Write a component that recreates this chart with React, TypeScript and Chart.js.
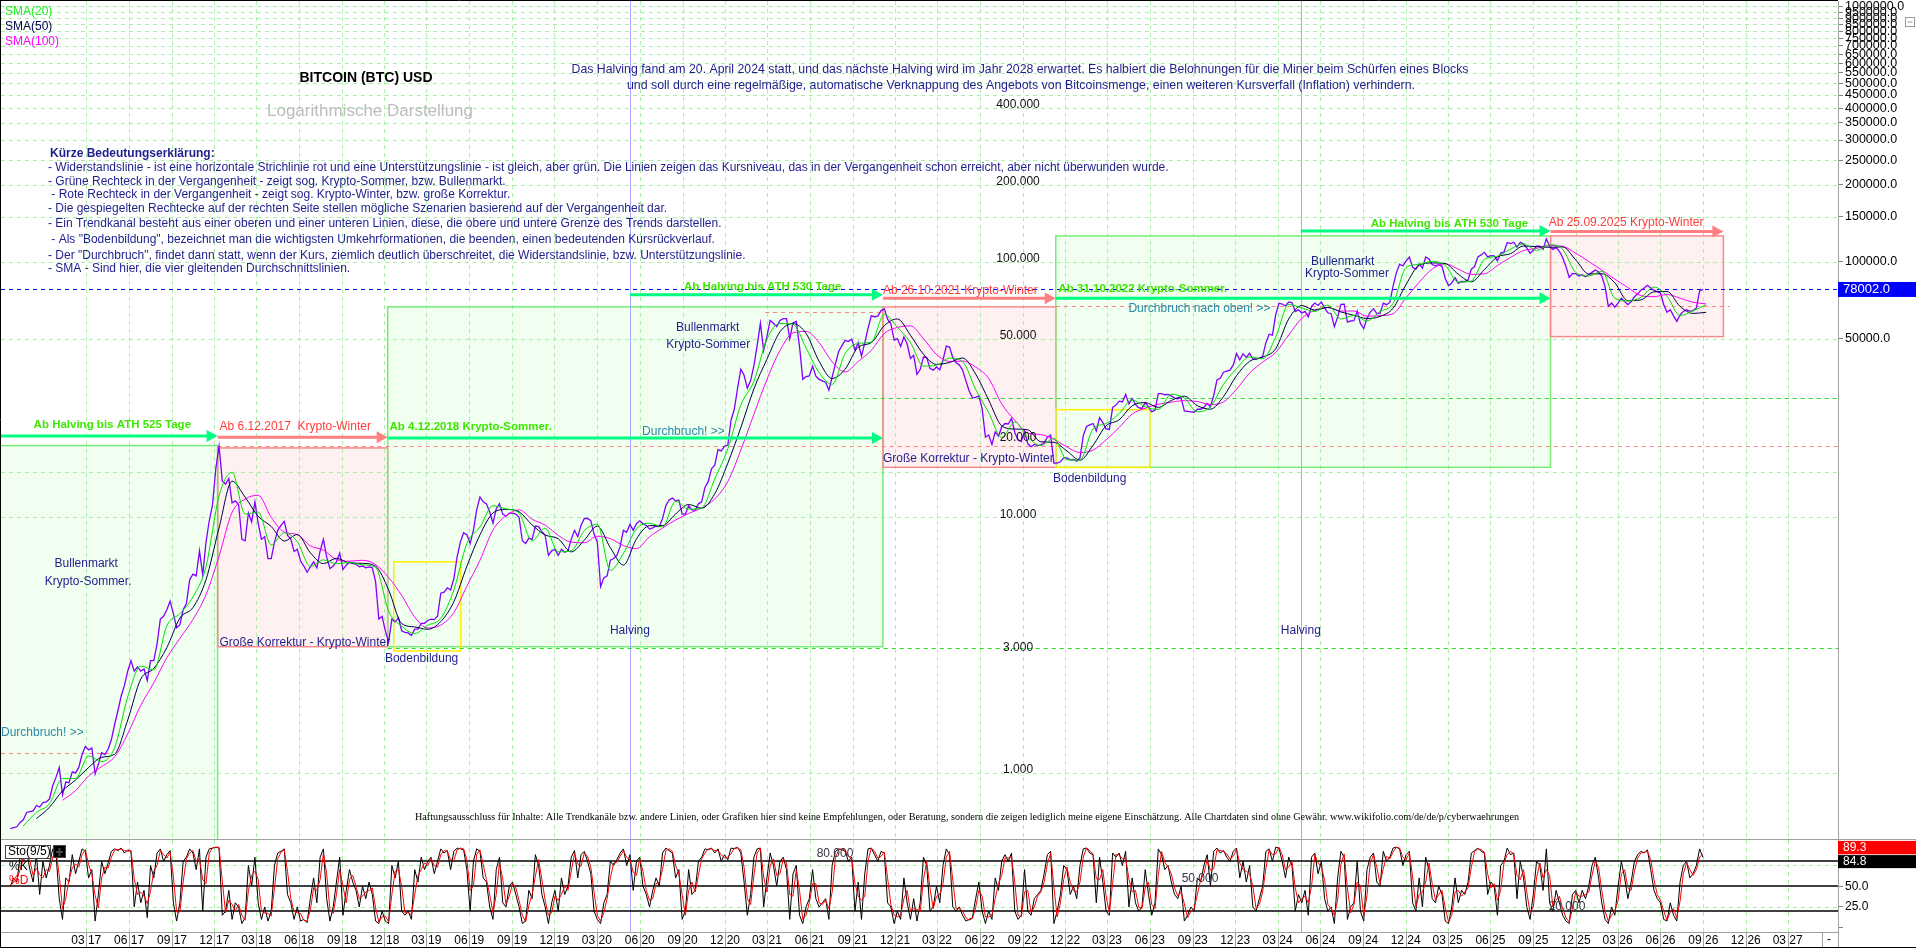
import React, { useEffect, useRef } from "react";
import { Chart, registerables } from "chart.js";

Chart.register(...registerables);

const SANS = '"Liberation Sans", Arial, Helvetica, sans-serif';
const SERIF = '"Liberation Serif", "Times New Roman", serif';

const dayOf = (s: string): number =>
  Date.UTC(+s.slice(0, 4), +s.slice(5, 7) - 1, +s.slice(8, 10)) / 86400000;

// ---------- visible window ----------
const X_START = "2016-08-30";
const X_END = "2027-06-17";
const Y_MIN = 551;
const Y_MAX = 1050000;
const STO_MIN = -5.2;
const STO_MAX = 105.7;

// ---------- weekly closes (Mondays), one array per year ----------
const price2016 = [605, 610, 615, 640, 655, 700, 705, 710, 745, 735, 765, 770, 790, 890, 960];
const price2017 = [1050, 820, 920, 915, 1010, 1000, 1050, 1180, 1270, 1230, 1250, 990, 1080, 1200, 1180, 1240, 1350, 1550, 1750, 2000, 2200, 2500, 2750, 2500, 2600, 2500, 2550, 2300, 2750, 2750, 3200, 4000, 4100, 4350, 4700, 4200, 3700, 3800, 4350, 4600, 5700, 6000, 5900, 7400, 5950, 8000, 9700, 11200, 15500, 19000, 13900, 13500];
const price2018 = [14200, 11400, 11600, 11200, 8200, 8100, 10400, 9600, 11500, 9500, 8200, 8400, 6900, 6900, 8000, 8900, 9300, 9650, 8500, 8250, 7350, 7500, 6750, 6450, 6100, 6400, 6700, 6350, 7400, 8200, 7000, 6300, 6450, 6700, 7250, 6250, 6500, 6700, 6600, 6550, 6400, 6450, 6350, 6400, 6350, 5600, 4000, 4100, 3600, 3250, 4000, 3900, 4050];
const price2019 = [3600, 3550, 3530, 3450, 3650, 3650, 3850, 3850, 3950, 4000, 3980, 4100, 5050, 5100, 5300, 5200, 5750, 7000, 8000, 8700, 8550, 7900, 8900, 10700, 12000, 11500, 11300, 10500, 9500, 10800, 11300, 10300, 10100, 10400, 10400, 10300, 10000, 8100, 7900, 8300, 8200, 9250, 9200, 8800, 8500, 7100, 7400, 7500, 7100, 7500, 7300, 7400];
const price2020 = [8200, 8900, 8400, 9300, 9900, 9900, 9700, 8600, 8000, 5350, 5800, 5900, 6800, 6900, 7100, 7700, 8900, 8750, 9400, 8900, 9450, 9700, 9450, 9300, 9000, 9100, 9250, 9200, 9900, 11100, 11700, 11900, 11600, 11700, 10300, 10300, 11100, 10700, 10650, 11300, 11500, 13100, 13800, 15500, 16000, 18400, 18200, 19000, 19150, 24000, 26500, 32000];
const price2021 = [38000, 36000, 32000, 34300, 39200, 47000, 57500, 45000, 51000, 59000, 57500, 55800, 59000, 60000, 60000, 50000, 57800, 58500, 46500, 34700, 35600, 35800, 39100, 35700, 34700, 34200, 33800, 31500, 35400, 39900, 44600, 47000, 49300, 48800, 49900, 45200, 48300, 42700, 48200, 54900, 61500, 61000, 61300, 64500, 65500, 59700, 57300, 49400, 50100, 46700, 50800, 47700];
const price2022 = [41900, 43100, 36300, 37900, 42400, 42200, 38300, 37700, 38800, 37800, 41300, 46800, 46400, 42200, 40400, 39500, 37700, 34300, 31300, 29400, 29500, 29900, 26600, 20600, 21000, 19300, 21600, 20800, 22600, 23300, 23200, 24400, 21500, 20100, 19800, 21800, 19400, 18900, 19300, 19100, 19200, 19600, 20600, 21000, 16300, 16300, 16500, 17100, 17100, 16800, 16850, 16600];
const price2023 = [17100, 20900, 22700, 23000, 23300, 21800, 24600, 23500, 22200, 22100, 26900, 27500, 28500, 28300, 30300, 27800, 29200, 27700, 26900, 26700, 28100, 27100, 25900, 26300, 30500, 30500, 30200, 30300, 29900, 29300, 29100, 29400, 26100, 26000, 25900, 25800, 26500, 26500, 27000, 27900, 27100, 30000, 34500, 35000, 37000, 37400, 37700, 39500, 43800, 41400, 43700, 42300];
const price2024 = [43900, 41700, 41600, 42000, 42600, 48300, 52100, 51700, 62000, 68900, 68400, 67200, 69700, 69300, 63900, 64900, 63100, 64000, 60900, 67000, 69000, 67500, 69600, 66200, 63200, 62700, 55800, 60800, 68200, 68300, 58100, 58700, 58900, 64200, 57300, 54800, 60000, 63600, 65600, 62800, 62900, 69000, 68000, 69400, 80400, 90600, 97900, 96400, 101000, 104500, 95200, 93700, 98300];
const price2025 = [94500, 104500, 102600, 97700, 96500, 97500, 96100, 86100, 80700, 82600, 86800, 82400, 83800, 83700, 85100, 93700, 95900, 104600, 106500, 109000, 104600, 105700, 105600, 100900, 108300, 109200, 119100, 117900, 119400, 114200, 119300, 117400, 113500, 108200, 111100, 115300, 115300, 112000, 123000, 115000, 112000, 114000, 110000, 104000, 96000, 87000, 90000, 90000, 88000, 89000, 87500, 89000];
const price2026 = [91000, 93000, 91500, 88000, 80000, 67000, 69000, 66500, 69000, 72000, 70000, 68000, 70000, 73000, 75000, 77500, 79000, 81000, 79000, 77500, 76500, 75500, 68000, 63500, 65000, 61500, 58500, 62000, 64000, 65000, 64000, 64500, 66000, 77000, 78002];

// ---------- Stochastic (9/5) weekly readings ----------
const stoK2016 = [50, 60, 55, 85, 80, 92, 70, 55, 88, 40, 80, 60, 75, 95, 90];
const stoK2017 = [35, 10, 60, 55, 88, 65, 80, 95, 92, 60, 70, 8, 40, 80, 65, 78, 92, 95, 93, 96, 90, 94, 92, 25, 55, 30, 45, 12, 75, 60, 90, 95, 80, 88, 93, 30, 8, 30, 80, 85, 95, 90, 70, 95, 20, 85, 95, 96, 97, 96, 15, 20];
const stoK2018 = [45, 10, 30, 25, 5, 12, 75, 50, 85, 30, 10, 25, 8, 20, 75, 90, 92, 95, 40, 30, 10, 25, 8, 10, 6, 35, 60, 30, 85, 95, 35, 8, 25, 55, 85, 15, 45, 70, 55, 45, 25, 50, 35, 55, 40, 8, 5, 20, 8, 5, 75, 60, 80];
const stoK2019 = [20, 15, 20, 10, 70, 55, 85, 70, 80, 85, 65, 80, 95, 90, 93, 70, 92, 96, 95, 94, 70, 20, 80, 95, 92, 60, 55, 25, 10, 70, 85, 30, 25, 50, 55, 40, 25, 5, 8, 45, 35, 88, 75, 40, 25, 5, 30, 45, 20, 60, 40, 50];
const stoK2020 = [85, 93, 60, 88, 92, 80, 65, 20, 10, 5, 30, 40, 80, 75, 82, 90, 95, 75, 88, 45, 80, 85, 50, 40, 25, 45, 60, 50, 90, 96, 93, 90, 60, 70, 10, 20, 70, 40, 45, 80, 85, 95, 94, 96, 90, 95, 80, 88, 82, 96, 95, 97];
const stoK2021 = [90, 55, 15, 40, 85, 95, 96, 25, 60, 90, 75, 50, 80, 85, 70, 10, 65, 75, 15, 5, 25, 35, 70, 35, 25, 30, 35, 10, 75, 92, 95, 94, 92, 80, 85, 20, 55, 10, 65, 95, 96, 88, 80, 92, 90, 30, 25, 5, 20, 10, 60, 30];
const stoK2022 = [10, 35, 8, 30, 85, 75, 20, 25, 50, 30, 75, 95, 88, 25, 20, 25, 15, 8, 10, 12, 35, 55, 20, 5, 20, 10, 60, 45, 80, 88, 80, 90, 20, 10, 15, 70, 20, 15, 35, 40, 45, 65, 88, 92, 5, 20, 40, 75, 70, 40, 50, 35];
const stoK2023 = [75, 95, 96, 90, 88, 30, 85, 55, 20, 15, 90, 85, 90, 75, 92, 25, 60, 30, 20, 25, 70, 40, 15, 30, 95, 88, 70, 75, 55, 40, 35, 50, 8, 15, 25, 20, 60, 55, 75, 88, 50, 92, 96, 90, 93, 85, 80, 92, 96, 60, 80, 55];
const stoK2024 = [75, 25, 20, 35, 50, 92, 95, 80, 97, 96, 80, 60, 85, 75, 20, 40, 30, 45, 15, 85, 90, 65, 80, 35, 20, 25, 5, 60, 92, 85, 10, 25, 30, 80, 20, 8, 70, 85, 90, 55, 50, 92, 80, 85, 96, 97, 95, 75, 88, 92, 30, 20, 60];
const stoK2025 = [25, 85, 70, 35, 30, 50, 40, 8, 5, 25, 60, 30, 45, 40, 55, 90, 93, 96, 92, 90, 40, 55, 50, 15, 75, 80, 96, 88, 90, 35, 80, 60, 25, 10, 40, 80, 75, 45, 95, 30, 20, 45, 30, 15, 8, 5, 40, 45, 30, 45, 35, 50];
const stoK2026 = [75, 85, 60, 30, 10, 5, 25, 15, 50, 80, 60, 35, 55, 80, 88, 92, 90, 94, 70, 45, 35, 30, 10, 8, 30, 15, 8, 55, 75, 80, 60, 65, 75, 95, 84.8];

const stoD2016 = [50, 55, 58, 70, 83, 86, 81, 63, 72, 64, 60, 70, 68, 85, 93];
const stoD2017 = [63, 23, 35, 58, 72, 77, 73, 88, 94, 76, 65, 39, 24, 60, 73, 72, 85, 94, 94, 95, 93, 92, 93, 59, 40, 43, 38, 29, 44, 68, 75, 93, 88, 84, 91, 62, 19, 19, 55, 83, 90, 93, 80, 83, 58, 53, 90, 96, 97, 97, 56, 18];
const stoD2018 = [33, 28, 20, 28, 15, 9, 44, 63, 68, 58, 20, 18, 17, 14, 48, 83, 91, 94, 68, 35, 20, 18, 17, 9, 8, 21, 48, 45, 58, 90, 65, 22, 17, 40, 70, 50, 30, 58, 63, 50, 35, 38, 43, 45, 48, 24, 7, 13, 14, 7, 40, 68, 70];
const stoD2019 = [50, 18, 18, 15, 40, 63, 70, 78, 75, 83, 75, 73, 88, 93, 92, 82, 81, 94, 96, 95, 82, 45, 50, 88, 94, 76, 58, 40, 18, 40, 78, 58, 28, 38, 53, 48, 33, 15, 7, 27, 40, 62, 82, 58, 33, 15, 18, 38, 33, 40, 50, 45];
const stoD2020 = [68, 89, 77, 74, 90, 86, 73, 43, 15, 8, 18, 35, 60, 78, 79, 86, 93, 85, 82, 67, 63, 83, 68, 45, 33, 35, 53, 55, 70, 93, 95, 92, 75, 65, 40, 15, 45, 55, 43, 63, 83, 90, 95, 95, 93, 93, 88, 84, 85, 89, 96, 96];
const stoD2021 = [94, 73, 35, 28, 63, 90, 96, 61, 43, 75, 83, 63, 65, 83, 78, 40, 38, 70, 45, 10, 15, 30, 53, 53, 30, 28, 33, 23, 43, 84, 94, 95, 93, 86, 83, 53, 38, 33, 38, 80, 96, 92, 84, 86, 91, 60, 28, 15, 13, 15, 35, 45];
const stoD2022 = [20, 23, 22, 19, 58, 80, 48, 23, 38, 40, 53, 85, 92, 57, 23, 23, 20, 12, 9, 11, 24, 45, 38, 13, 13, 15, 35, 53, 63, 84, 84, 85, 55, 15, 13, 43, 45, 18, 25, 38, 43, 55, 77, 90, 49, 13, 30, 58, 73, 55, 45, 43];
const stoD2023 = [55, 85, 96, 93, 89, 59, 58, 70, 38, 18, 53, 88, 88, 83, 84, 59, 43, 45, 25, 23, 48, 55, 28, 23, 63, 92, 79, 73, 65, 48, 38, 43, 29, 12, 20, 23, 40, 58, 65, 82, 69, 71, 94, 93, 92, 89, 83, 86, 94, 78, 70, 68];
const stoD2024 = [65, 50, 23, 28, 43, 71, 94, 88, 89, 97, 88, 70, 73, 80, 48, 30, 35, 38, 30, 50, 88, 78, 73, 58, 28, 23, 15, 33, 76, 89, 48, 18, 28, 55, 50, 14, 39, 78, 88, 73, 53, 71, 86, 83, 91, 97, 96, 85, 82, 90, 61, 25, 40];
const stoD2025 = [43, 55, 78, 53, 33, 40, 45, 24, 7, 15, 43, 45, 38, 43, 48, 73, 92, 95, 94, 91, 65, 48, 53, 33, 45, 78, 88, 92, 89, 63, 58, 70, 43, 18, 25, 60, 78, 60, 70, 63, 25, 33, 38, 23, 12, 7, 23, 43, 38, 38, 40, 43];
const stoD2026 = [63, 80, 73, 45, 20, 8, 15, 20, 33, 65, 70, 48, 45, 68, 84, 90, 91, 92, 82, 58, 40, 33, 20, 9, 19, 23, 12, 32, 65, 78, 70, 63, 70, 85, 89.3];

const YEARS = [
  { start: "2016-09-19", price: price2016, k: stoK2016, d: stoD2016 },
  { start: "2017-01-02", price: price2017, k: stoK2017, d: stoD2017 },
  { start: "2018-01-01", price: price2018, k: stoK2018, d: stoD2018 },
  { start: "2019-01-07", price: price2019, k: stoK2019, d: stoD2019 },
  { start: "2020-01-06", price: price2020, k: stoK2020, d: stoD2020 },
  { start: "2021-01-04", price: price2021, k: stoK2021, d: stoD2021 },
  { start: "2022-01-03", price: price2022, k: stoK2022, d: stoD2022 },
  { start: "2023-01-02", price: price2023, k: stoK2023, d: stoD2023 },
  { start: "2024-01-01", price: price2024, k: stoK2024, d: stoD2024 },
  { start: "2025-01-06", price: price2025, k: stoK2025, d: stoD2025 },
  { start: "2026-01-05", price: price2026, k: stoK2026, d: stoD2026 },
];

// ---------- moving averages, read every 28 days from 2016-10-17 ----------
const SMA_START = "2016-10-17";
const SMA_STEP = 28;
const sma20 = [
  620, 700, 757,
  950, 950, 1165, 1107, 1257, 1983, 2617, 2533, 3767, 4200, 4883, 6417, 12133,
  15000, 10300, 10500, 7800, 8700, 8030, 6430, 6817, 6583, 6667, 6517, 6370, 4300,
  3750, 3510, 3783, 4027, 5200, 7900, 9167, 11100, 10800, 10367, 8100, 9083, 7333,
  7400, 8870, 9400, 6200, 7233, 9017, 9483, 9183, 11567, 10767, 10883, 14133, 18533,
  27500, 34100, 49800, 57400, 57000, 46000, 36867, 33167, 43833, 47967, 48600, 62267, 55467,
  48400, 39100, 39400, 42000, 40700, 31700, 25700, 20567, 23633, 20567, 19100, 20400, 16800,
  16750, 22200, 23300, 25500, 28800, 27100, 26433, 30333, 29267, 25900, 27133, 33167, 38200,
  42467, 41767, 50700, 68167, 66033, 63967, 67767, 59767, 61700, 58767, 64000, 68800, 95000, 97800,
  100533, 96700, 83367, 84200, 102333, 105300, 112200, 117633, 110933, 116767, 112000, 91000, 88167,
  91833, 72000, 70333, 72667, 79667, 73333, 61667, 64333, 68000,
];
const sma50 = [
  null, 662, 733,
  851, 938, 1049, 1150, 1184, 1610, 2329, 2564, 3093, 4036, 4436, 5700, 9093,
  13857, 12000, 10100, 9214, 8086, 8564, 7271, 6593, 6914, 6636, 6607, 6443, 5200,
  3843, 3726, 3647, 3911, 4676, 6436, 8536, 10400, 10743, 10514, 9343, 8536, 8250,
  7329, 8143, 9243, 7607, 6507, 8236, 9279, 9286, 10307, 11229, 10864, 12364, 16286,
  22464, 31829, 41571, 53257, 57329, 52500, 40843, 34971, 38057, 46386, 48286, 56300, 59814,
  51671, 43486, 39700, 40414, 42057, 36400, 28800, 22829, 22171, 22014, 19771, 19671, 18200,
  16750, 19136, 22829, 24086, 27343, 28129, 26957, 28686, 29814, 27371, 26514, 29714, 35871,
  40829, 42371, 45714, 59800, 67471, 64729, 66314, 63686, 61800, 60043, 61186, 65900, 81671, 97043,
  99043, 98486, 89471, 83586, 93329, 104557, 107629, 115343, 114729, 114057, 114471, 101857, 89643,
  89857, 82786, 70500, 71000, 76357, 76643, 66929, 62857, 63500,
];
const sma100 = [
  null, null, null,
  781, 852, 972, 1059, 1156, 1422, 1838, 2254, 2823, 3362, 3985, 4981, 7054,
  10458, 11800, 12200, 10000, 8762, 8566, 7735, 7446, 6842, 6738, 6794, 6536, 5815,
  4950, 4075, 3690, 3789, 4240, 5383, 6789, 8923, 10150, 10700, 9838, 9327, 8504,
  8000, 7954, 8439, 8258, 7762, 7546, 8396, 9085, 9765, 10358, 10888, 11804, 13812,
  18342, 25315, 34642, 45023, 52715, 53446, 48354, 40608, 37077, 40769, 45054, 52508, 55365,
  56185, 50069, 43423, 40785, 40900, 38738, 34969, 27808, 24015, 21385, 21092, 20208, 18858,
  17942, 18335, 20106, 22477, 25369, 26738, 27715, 28246, 28638, 28408, 27669, 28285, 31762,
  36715, 40538, 44223, 51769, 60085, 64692, 66338, 64208, 64238, 61300, 61638, 62708, 72415, 83223,
  93769, 98346, 93662, 89354, 89846, 96754, 104092, 110746, 112931, 115838, 115085, 108054, 100423,
  92777, 85615, 79423, 73769, 73077, 74538, 72115, 69500, 68500,
];

// ---------- axes / marks ----------
const LAST_PRICE = 78002;
const HALVINGS = ["2016-07-09", "2020-05-11", "2024-04-20"];
const RIGHT_TICKS = [50000, 100000, 150000, 200000, 250000, 300000, 350000, 400000, 450000, 500000, 550000, 600000, 650000, 700000, 750000, 800000, 850000, 900000, 950000, 1000000];
const EXTRA_GRID = [1000, 10000, 15000];
const INSIDE_LABELS = [400000, 200000, 100000, 50000, 20000, 10000, 3000, 1000];
const STO_TICKS = [0, 25, 50, 75];
const STO_LEVELS = [20, 50, 80];
const STO_GRID = [25, 75];

const QUARTER_TICKS: string[] = [];
for (let y = 2017; y <= 2027; y++) {
  for (const m of [3, 6, 9, 12]) {
    if (y === 2027 && m > 3) break;
    QUARTER_TICKS.push(`${y}-${String(m).padStart(2, "0")}-01`);
  }
}

const ZONES = [
  { kind: "bull", from: "2016-07-09", to: "2017-12-08", top: 19100, bottom: null },
  { kind: "bear", from: "2017-12-08", to: "2018-12-08", top: 18700, bottom: 3117 },
  { kind: "bull", from: "2018-12-08", to: "2021-11-05", top: 66700, bottom: 3117 },
  { kind: "bear", from: "2021-11-05", to: "2022-11-11", top: 66700, bottom: 15700 },
  { kind: "bull", from: "2022-11-11", to: "2025-10-08", top: 126400, bottom: 15700 },
  { kind: "bear", from: "2025-10-08", to: "2026-10-14", top: 126400, bottom: 51000 },
];
const BASES = [
  { from: "2018-12-21", to: "2019-05-14", top: 6700, bottom: 3000 },
  { from: "2022-11-11", to: "2023-06-01", top: 26400, bottom: 15700 },
];
const LEVELS = [
  { value: 19100, from: "2017-12-08", to: X_END, color: "#ff8080" },
  { value: 1200, from: X_START, to: "2017-04-20", color: "#ff8080" },
  { value: 3080, from: "2018-12-08", to: X_END, color: "#22dd22" },
  { value: 29300, from: "2021-07-03", to: X_END, color: "#22dd22" },
  { value: 63600, from: "2021-02-25", to: "2021-11-05", color: "#ff8080" },
  { value: 67300, from: "2022-11-11", to: "2026-10-28", color: "#ff8080" },
  { value: LAST_PRICE, from: X_START, to: X_END, color: "#0000ff" },
];
const ARROWS = [
  { from: "2016-07-09", to: "2017-12-08", price: 20800, color: "#00ff80" },
  { from: "2017-12-08", to: "2018-12-08", price: 20600, color: "#ff8080" },
  { from: "2018-12-08", to: "2021-11-05", price: 20450, color: "#00ff80" },
  { from: "2020-05-11", to: "2021-11-05", price: 74300, color: "#00ff80" },
  { from: "2021-11-05", to: "2022-11-11", price: 72100, color: "#ff8080" },
  { from: "2022-11-11", to: "2025-10-08", price: 72100, color: "#00ff80" },
  { from: "2024-04-20", to: "2025-10-08", price: 132200, color: "#00ff80" },
  { from: "2025-10-08", to: "2026-10-14", price: 131400, color: "#ff8080" },
];
const GREEN_TXT = "#3ce600";
const RED_TXT = "#ff3b3b";
const NAVY = "#1e1e8c";
const TEAL = "#2a8aa6";
const ARROW_LABELS = [
  { text: "Ab Halving bis ATH 525 Tage", date: "2016-11-08", price: 23000, color: GREEN_TXT, bold: true },
  { text: "Ab 6.12.2017  Krypto-Winter", date: "2017-12-12", price: 22700, color: RED_TXT, bold: false },
  { text: "Ab 4.12.2018 Krypto-Sommer.", date: "2018-12-12", price: 22600, color: GREEN_TXT, bold: true },
  { text: "Ab Halving bis ATH 530 Tage", date: "2020-09-04", price: 79600, color: GREEN_TXT, bold: true },
  { text: "Ab 26.10.2021 Krypto-Winter", date: "2021-11-05", price: 77000, color: RED_TXT, bold: false },
  { text: "Ab 31.10.2022 Krypto-Sommer.", date: "2022-11-17", price: 78400, color: GREEN_TXT, bold: true },
  { text: "Ab Halving bis ATH 530 Tage", date: "2024-09-17", price: 140800, color: GREEN_TXT, bold: true },
  { text: "Ab 25.09.2025 Krypto-Winter", date: "2025-10-04", price: 142500, color: RED_TXT, bold: false },
];
const NOTES = [
  { text: "Bullenmarkt", date: "2017-03-01", price: 6570, color: NAVY, align: "center" },
  { text: "Krypto-Sommer.", date: "2017-03-05", price: 5590, color: NAVY, align: "center" },
  { text: "Durchbruch! >>", date: X_START, price: 1433, color: TEAL, align: "left" },
  { text: "Große Korrektur - Krypto-Winter", date: "2017-12-12", price: 3226, color: NAVY, align: "left" },
  { text: "Bodenbildung", date: "2018-12-02", price: 2793, color: NAVY, align: "left" },
  { text: "Durchbruch! >>", date: "2020-06-06", price: 21600, color: TEAL, align: "left" },
  { text: "Halving", date: "2016-07-09", price: 3596, color: NAVY, align: "center" },
  { text: "Halving", date: "2020-05-11", price: 3596, color: NAVY, align: "center" },
  { text: "Halving", date: "2024-04-20", price: 3596, color: NAVY, align: "center" },
  { text: "Bullenmarkt", date: "2020-10-25", price: 55200, color: NAVY, align: "center" },
  { text: "Krypto-Sommer", date: "2020-10-26", price: 47300, color: NAVY, align: "center" },
  { text: "Große Korrektur - Krypto-Winter", date: "2021-11-05", price: 16940, color: NAVY, align: "left" },
  { text: "Bodenbildung", date: "2022-11-05", price: 14140, color: NAVY, align: "left" },
  { text: "Durchbruch nach oben! >>", date: "2023-04-16", price: 65470, color: TEAL, align: "left" },
  { text: "Bullenmarkt", date: "2024-07-19", price: 100000, color: NAVY, align: "center" },
  { text: "Krypto-Sommer", date: "2024-07-28", price: 89760, color: NAVY, align: "center" },
];
const INSIDE_LABEL_DATE = "2022-08-22";
const LEGEND_LINES = [
  "- Widerstandslinie - ist eine horizontale Strichlinie rot und eine Unterstützungslinie - ist gleich, aber grün. Die Linien zeigen das Kursniveau, das in der Vergangenheit schon erreicht, aber nicht überwunden wurde.",
  "- Grüne Rechteck in der Vergangenheit - zeigt sog. Krypto-Sommer, bzw. Bullenmarkt.",
  " - Rote Rechteck in der Vergangenheit - zeigt sog. Krypto-Winter, bzw. große Korrektur.",
  "- Die gespiegelten Rechtecke auf der rechten Seite stellen mögliche Szenarien basierend auf der Vergangenheit dar.",
  "- Ein Trendkanal besteht aus einer oberen und einer unteren Linien, diese, die obere und untere Grenze des Trends darstellen.",
  " - Als \"Bodenbildung\", bezeichnet man die wichtigsten Umkehrformationen, die beenden, einen bedeutenden Kursrückverlauf.",
  "- Der \"Durchbruch\", findet dann statt, wenn der Kurs, ziemlich deutlich überschreitet, die Widerstandslinie, bzw. Unterstützungslinie.",
  "- SMA - Sind hier, die vier gleitenden Durchschnittslinien.",
];
const HALVING_NOTE = [
  "Das Halving fand am 20. April 2024 statt, und das nächste Halving wird im Jahr 2028 erwartet. Es halbiert die Belohnungen für die Miner beim Schürfen eines Blocks",
  "und soll durch eine regelmäßige, automatische Verknappung des Angebots von Bitcoinsmenge, einen weiteren Kursverfall (Inflation) verhindern.",
];
const DISCLAIMER =
  "Haftungsausschluss für Inhalte: Alle Trendkanäle bzw. andere Linien, oder Grafiken hier sind keine Empfehlungen, oder Beratung, sondern die zeigen lediglich meine eigene Einschätzung. Alle Chartdaten sind ohne Gewähr. www.wikifolio.com/de/de/p/cyberwaehrungen";

// ---------- helpers ----------
const weekly = (start: string, vals: number[]) => vals.map((v, i) => ({ x: dayOf(start) + 7 * i, y: v }));
const stepped = (start: string, step: number, vals: (number | null)[]) =>
  vals.map((v, i) => ({ x: dayOf(start) + step * i, y: v })).filter((p) => p.y !== null);
const dotted = (v: number) => String(v).replace(/\B(?=(\d{3})+(?!\d))/g, ".");
const fmtQuarter = (v: number) => {
  const d = new Date(Math.round(v) * 86400000);
  return `${String(d.getUTCMonth() + 1).padStart(2, "0")} ${String(d.getUTCFullYear() % 100).padStart(2, "0")}`;
};
const crisp = (v: number) => Math.round(v) + 0.5;
function hLine(ctx: any, x1: number, x2: number, y: number) {
  ctx.beginPath(); ctx.moveTo(x1, y); ctx.lineTo(x2, y); ctx.stroke();
}
function vLine(ctx: any, x: number, y1: number, y2: number) {
  ctx.beginPath(); ctx.moveTo(x, y1); ctx.lineTo(x, y2); ctx.stroke();
}
function txt(ctx: any, s: string, x: number, y: number, font: string, color: string, align = "left", maxW?: number) {
  ctx.font = font; ctx.fillStyle = color; ctx.textAlign = align; ctx.textBaseline = "middle";
  if (maxW) ctx.fillText(s, x, y, maxW); else ctx.fillText(s, x, y);
}
function clipArea(ctx: any, a: any) {
  ctx.beginPath(); ctx.rect(a.left, a.top, a.right - a.left, a.bottom - a.top); ctx.clip();
}

// ---------- main panel decorations ----------
const mainDecor = {
  id: "mainDecor",
  beforeDatasetsDraw(chart: any) {
    const { ctx, chartArea: a } = chart;
    const X = (s: string) => chart.scales.x.getPixelForValue(dayOf(s));
    const Y = (v: number) => chart.scales.y.getPixelForValue(v);
    ctx.save();
    clipArea(ctx, a);
    for (const z of ZONES) {
      const x1 = X(z.from), x2 = X(z.to);
      const y1 = Y(z.top), y2 = z.bottom === null ? a.bottom + 10 : Y(z.bottom);
      ctx.fillStyle = z.kind === "bull" ? "#f1fff1" : "#fff1f1";
      ctx.fillRect(x1, y1, x2 - x1, y2 - y1);
    }
    ctx.lineWidth = 1;
    ctx.strokeStyle = "#aaeeaa";
    ctx.setLineDash([4, 4]);
    for (const q of QUARTER_TICKS) vLine(ctx, crisp(X(q)), a.top, a.bottom);
    for (const v of [...RIGHT_TICKS, ...EXTRA_GRID]) hLine(ctx, a.left, a.right, crisp(Y(v)));
    ctx.setLineDash([]);
    ctx.lineWidth = 1.5;
    for (const z of ZONES) {
      const x1 = X(z.from), x2 = X(z.to);
      const y1 = Y(z.top), y2 = z.bottom === null ? a.bottom + 10 : Y(z.bottom);
      ctx.strokeStyle = z.kind === "bull" ? "#74ee74" : "#f58a8a";
      ctx.strokeRect(x1, y1, x2 - x1, y2 - y1);
    }
    ctx.strokeStyle = "#ffee00";
    for (const b of BASES) {
      const x1 = X(b.from), x2 = X(b.to), y1 = Y(b.top), y2 = Y(b.bottom);
      ctx.strokeRect(x1, y1, x2 - x1, y2 - y1);
    }
    ctx.lineWidth = 1;
    ctx.strokeStyle = "#a8a8ff";
    for (const h of HALVINGS) vLine(ctx, crisp(X(h)), a.top, a.bottom);
    ctx.setLineDash([4, 4]);
    for (const l of LEVELS) {
      ctx.strokeStyle = l.color;
      hLine(ctx, X(l.from), X(l.to), crisp(Y(l.value)));
    }
    ctx.restore();
  },
  afterDatasetsDraw(chart: any) {
    const { ctx, chartArea: a } = chart;
    const X = (s: string) => chart.scales.x.getPixelForValue(dayOf(s));
    const Y = (v: number) => chart.scales.y.getPixelForValue(v);
    ctx.save();
    clipArea(ctx, a);
    // arrows
    for (const ar of ARROWS) {
      const x1 = X(ar.from), x2 = X(ar.to), y = Y(ar.price);
      ctx.strokeStyle = ar.color; ctx.fillStyle = ar.color; ctx.lineWidth = 3;
      hLine(ctx, x1, x2 - 9, y);
      ctx.beginPath(); ctx.moveTo(x2, y); ctx.lineTo(x2 - 11, y - 6); ctx.lineTo(x2 - 11, y + 6); ctx.closePath(); ctx.fill();
    }
    for (const l of ARROW_LABELS) {
      txt(ctx, l.text, X(l.date), Y(l.price), `${l.bold ? "bold 11.5px" : "12px"} ${SANS}`, l.color);
    }
    for (const n of NOTES) {
      txt(ctx, n.text, X(n.date), Y(n.price), `12px ${SANS}`, n.color, n.align);
    }
    for (const v of INSIDE_LABELS) {
      txt(ctx, dotted(v), X(INSIDE_LABEL_DATE), Y(v) - 3, `12px ${SANS}`, "#111111", "center");
    }
    ctx.restore();

    // header texts
    ctx.save();
    txt(ctx, "SMA(20)", 5, 12, `12px ${SANS}`, "#22ee22");
    txt(ctx, "SMA(50)", 5, 27, `12px ${SANS}`, "#000050");
    txt(ctx, "SMA(100)", 5, 42, `12px ${SANS}`, "#ff00ff");
    txt(ctx, "BITCOIN (BTC) USD", 366, 78, `bold 14px ${SANS}`, "#000000", "center");
    txt(ctx, "Logarithmische Darstellung", 370, 111, `17px ${SANS}`, "#bdbdbd", "center");
    txt(ctx, "Kürze Bedeutungserklärung:", 50, 154, `bold 12px ${SANS}`, NAVY);
    const ly = [168, 182, 195, 209, 224, 240, 256, 269];
    LEGEND_LINES.forEach((s, i) => txt(ctx, s, 48, ly[i], `12px ${SANS}`, NAVY));
    txt(ctx, HALVING_NOTE[0], 1020, 69, `13px ${SANS}`, NAVY, "center", 897);
    txt(ctx, HALVING_NOTE[1], 1021, 85, `13px ${SANS}`, NAVY, "center", 788);
    txt(ctx, DISCLAIMER, 967, 817, `11px ${SERIF}`, "#000000", "center", 1104);

    // last price tag on the axis
    const yp = Y(LAST_PRICE);
    ctx.fillStyle = "#0000ff";
    ctx.fillRect(a.right, yp - 7.5, chart.width - a.right, 15);
    txt(ctx, LAST_PRICE.toFixed(1), a.right + 5, yp, `13px ${SANS}`, "#ffffff");

    // frame
    ctx.strokeStyle = "#000000"; ctx.lineWidth = 1;
    hLine(ctx, 0, a.right, 0.5);
    vLine(ctx, 0.5, 0, chart.height);
    ctx.strokeStyle = "#999999";
    ctx.strokeRect(1905.5, 17.5, 9, 9);
    hLine(ctx, 1907.5, 1912.5, 22);
    ctx.restore();
  },
};

// ---------- oscillator panel decorations ----------
const stoDecor = {
  id: "stoDecor",
  beforeDatasetsDraw(chart: any) {
    const { ctx, chartArea: a } = chart;
    const X = (s: string) => chart.scales.x.getPixelForValue(dayOf(s));
    const Y = (v: number) => chart.scales.y.getPixelForValue(v);
    ctx.save();
    clipArea(ctx, a);
    ctx.lineWidth = 1; ctx.strokeStyle = "#aaeeaa"; ctx.setLineDash([4, 4]);
    for (const q of QUARTER_TICKS) vLine(ctx, crisp(X(q)), a.top, a.bottom);
    for (const v of STO_GRID) hLine(ctx, a.left, a.right, crisp(Y(v)));
    ctx.setLineDash([]);
    ctx.strokeStyle = "#a8a8ff";
    for (const h of HALVINGS) vLine(ctx, crisp(X(h)), a.top, a.bottom);
    ctx.strokeStyle = "#000000"; ctx.lineWidth = 1.4;
    for (const v of STO_LEVELS) hLine(ctx, a.left, a.right, Math.round(Y(v)));
    ctx.restore();
  },
  afterDatasetsDraw(chart: any) {
    const { ctx, chartArea: a } = chart;
    const X = (s: string) => chart.scales.x.getPixelForValue(dayOf(s));
    const Y = (v: number) => chart.scales.y.getPixelForValue(v);
    const top = 839; // canvas offset on the page
    ctx.save();
    txt(ctx, "80.000", 835, 854 - top, `12px ${SANS}`, "#333344", "center");
    txt(ctx, "50.000", 1200, 879 - top, `12px ${SANS}`, "#333344", "center");
    txt(ctx, "20.000", 1567, 907 - top, `12px ${SANS}`, "#333344", "center");
    // indicator caption
    ctx.fillStyle = "#ffffff";
    ctx.fillRect(5, 845 - top, 45, 13);
    ctx.strokeStyle = "#444444"; ctx.lineWidth = 1;
    ctx.strokeRect(5.5, 845.5 - top, 45, 13);
    txt(ctx, "Sto(9/5)", 8, 852 - top, `12px ${SANS}`, "#000000");
    ctx.fillRect(53, 845 - top, 13, 13);
    ctx.strokeRect(53.5, 845.5 - top, 12, 12);
    ctx.lineWidth = 2;
    hLine(ctx, 56, 63, 852 - top);
    vLine(ctx, 59.5, 848 - top, 856 - top);
    txt(ctx, "%K", 9, 867 - top, `12px ${SANS}`, "#000000");
    txt(ctx, "%D", 9, 881 - top, `12px ${SANS}`, "#ff0000");
    // last value tags
    const lastD = stoD2026[stoD2026.length - 1];
    const lastK = stoK2026[stoK2026.length - 1];
    const yD = Y(lastD) - 6;
    const yK = yD + 14;
    ctx.fillStyle = "#ff0000";
    ctx.fillRect(a.right, yD - 6.7, chart.width - a.right, 13.4);
    txt(ctx, lastD.toFixed(1), a.right + 5, yD, `12px ${SANS}`, "#ffffff");
    ctx.fillStyle = "#000000";
    ctx.fillRect(a.right, yK - 6.5, chart.width - a.right, 13);
    txt(ctx, lastK.toFixed(1), a.right + 5, yK, `12px ${SANS}`, "#ffffff");
    // axis separators
    ctx.strokeStyle = "#a0a0a0"; ctx.lineWidth = 1;
    for (const q of QUARTER_TICKS) vLine(ctx, crisp(X(q)), a.bottom, chart.height);
    vLine(ctx, crisp(a.right), a.bottom, chart.height);
    vLine(ctx, 1822.5, a.bottom, chart.height);
    txt(ctx, "-", 1829, a.bottom + 8, `12px ${SANS}`, "#000000", "center");
    hLine(ctx, 0, chart.width, 0.5);
    ctx.strokeStyle = "#000000";
    vLine(ctx, 0.5, 0, chart.height);
    hLine(ctx, 0, chart.width, chart.height - 0.5);
    ctx.restore();
  },
};

const pricePts = YEARS.flatMap((y) => weekly(y.start, y.price));
const stoKPts = YEARS.flatMap((y) => weekly(y.start, y.k));
const stoDPts = YEARS.flatMap((y) => weekly(y.start, y.d));

function lineSet(label: string, data: any[], color: string, width: number, smooth: boolean) {
  return {
    label, data, borderColor: color, borderWidth: width, pointRadius: 0, fill: false,
    tension: 0, cubicInterpolationMode: smooth ? "monotone" : "default",
  };
}

export default function App() {
  const mainRef = useRef<HTMLCanvasElement>(null);
  const stoRef = useRef<HTMLCanvasElement>(null);

  useEffect(() => {
    document.body.style.margin = "0";
    Chart.defaults.font.family = SANS;
    const xMin = dayOf(X_START);
    const xMax = dayOf(X_END);

    const main = new Chart(mainRef.current as HTMLCanvasElement, {
      type: "line",
      data: {
        datasets: [
          lineSet("SMA(20)", stepped(SMA_START, SMA_STEP, sma20), "#00e000", 1, true),
          lineSet("SMA(50)", stepped(SMA_START, SMA_STEP, sma50), "#000046", 1, true),
          lineSet("SMA(100)", stepped(SMA_START, SMA_STEP, sma100), "#ff00ff", 1, true),
          lineSet("BTC", pricePts, "#7f00ff", 1.3, false),
        ] as any,
      },
      options: {
        animation: false,
        responsive: false,
        events: [],
        layout: { padding: { left: 1, top: 1, right: 0, bottom: 0 } },
        plugins: { legend: { display: false }, tooltip: { enabled: false } },
        scales: {
          x: { type: "linear", min: xMin, max: xMax, bounds: "data", display: false },
          y: {
            type: "logarithmic",
            position: "right",
            min: Y_MIN,
            max: Y_MAX,
            bounds: "data",
            afterBuildTicks: (s: any) => { s.ticks = RIGHT_TICKS.map((v) => ({ value: v })); },
            afterFit: (s: any) => { s.width = 78; s.paddingTop = 0; s.paddingBottom = 0; },
            ticks: {
              autoSkip: false,
              padding: 2,
              color: "#000000",
              font: { family: SANS, size: 12.5 },
              callback: (v: any) => Number(v).toFixed(1),
            },
            grid: { drawOnChartArea: false, tickLength: 5, color: "#808080" },
            border: { color: "#a0a0a0" },
          },
        },
      } as any,
      plugins: [mainDecor],
    });

    const sto = new Chart(stoRef.current as HTMLCanvasElement, {
      type: "line",
      data: {
        datasets: [
          lineSet("%D", stoDPts, "#ff0000", 1, false),
          lineSet("%K", stoKPts, "#000000", 1, false),
        ] as any,
      },
      options: {
        animation: false,
        responsive: false,
        events: [],
        layout: { padding: { left: 1, top: 1, right: 0, bottom: 0 } },
        plugins: { legend: { display: false }, tooltip: { enabled: false } },
        scales: {
          x: {
            type: "linear",
            position: "bottom",
            min: xMin,
            max: xMax,
            bounds: "data",
            afterBuildTicks: (s: any) => { s.ticks = QUARTER_TICKS.map((q) => ({ value: dayOf(q) })); },
            afterFit: (s: any) => { s.height = 16; s.paddingLeft = 0; s.paddingRight = 0; },
            ticks: {
              autoSkip: false,
              maxRotation: 0,
              minRotation: 0,
              padding: 1,
              color: "#000000",
              font: { family: SANS, size: 12 },
              callback: (v: any) => fmtQuarter(Number(v)),
            },
            grid: { display: false, drawTicks: false },
            border: { color: "#a0a0a0" },
          },
          y: {
            type: "linear",
            position: "right",
            min: STO_MIN,
            max: STO_MAX,
            bounds: "data",
            afterBuildTicks: (s: any) => { s.ticks = STO_TICKS.map((v) => ({ value: v })); },
            afterFit: (s: any) => { s.width = 78; s.paddingTop = 0; s.paddingBottom = 0; },
            ticks: {
              autoSkip: false,
              padding: 2,
              color: "#000000",
              font: { family: SANS, size: 12 },
              callback: (v: any) => (v === 25 || v === 50 ? Number(v).toFixed(1) : ""),
            },
            grid: { drawOnChartArea: false, tickLength: 5, color: "#808080" },
            border: { color: "#a0a0a0" },
          },
        },
      } as any,
      plugins: [stoDecor],
    });

    return () => {
      main.destroy();
      sto.destroy();
    };
  }, []);

  return (
    <div style={{ position: "relative", width: 1916, height: 948, background: "#ffffff", overflow: "hidden" }}>
      <canvas ref={mainRef} width={1916} height={839} style={{ position: "absolute", left: 0, top: 0, width: 1916, height: 839 }} />
      <canvas ref={stoRef} width={1916} height={109} style={{ position: "absolute", left: 0, top: 839, width: 1916, height: 109 }} />
    </div>
  );
}
